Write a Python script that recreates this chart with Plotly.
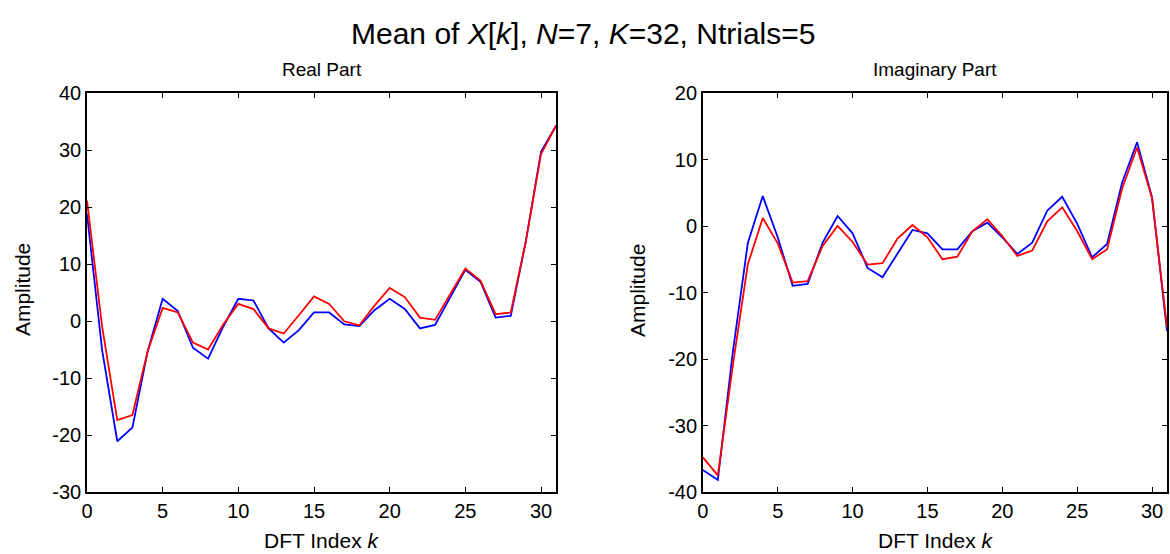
import plotly.graph_objects as go

k = list(range(32))

real_blue = [18.8, -5.1, -21.1, -18.7, -5.4, 3.9, 1.75, -4.7, -6.6, -1.0,
             3.9, 3.6, -1.3, -3.8, -1.6, 1.5, 1.5, -0.6, -0.9, 1.9,
             3.9, 2.1, -1.3, -0.7, 4.15, 9.0, 6.9, 0.6, 0.9, 14.0,
             29.7, 34.3]
real_red = [21.1, -1.0, -17.4, -16.5, -5.4, 2.3, 1.5, -3.8, -5.0, -0.6,
            3.0, 2.1, -1.3, -2.2, 1.0, 4.3, 3.0, -0.05, -0.75, 2.7,
            5.8, 4.2, 0.6, 0.2, 4.7, 9.2, 7.1, 1.2, 1.5, 14.0,
            29.3, 34.3]

imag_blue = [-36.7, -38.2, -19.0, -2.6, 4.5, -1.7, -9.0, -8.7, -2.5, 1.5,
             -1.1, -6.3, -7.7, -4.2, -0.6, -1.1, -3.5, -3.5, -0.8, 0.5,
             -1.7, -4.2, -2.5, 2.3, 4.4, 0.35, -4.7, -2.7, 6.5, 12.6,
             4.3, -15.8]
imag_red = [-34.8, -37.5, -21.0, -5.8, 1.2, -2.6, -8.5, -8.3, -3.0, 0.0,
            -2.4, -5.8, -5.6, -1.9, 0.15, -1.7, -5.0, -4.6, -0.8, 1.0,
            -1.5, -4.5, -3.7, 0.7, 2.8, -0.75, -5.0, -3.5, 5.6, 11.8,
            4.2, -15.2]

x_ticks = [0, 5, 10, 15, 20, 25, 30]
real_yticks = [-30, -20, -10, 0, 10, 20, 30, 40]
imag_yticks = [-40, -30, -20, -10, 0, 10, 20]

FONT = "Liberation Sans, Arial, sans-serif"
BLUE = "#0000ff"
RED = "#ff0000"

fig = go.Figure()
fig.add_trace(go.Scatter(x=k, y=real_blue, mode="lines", line=dict(color=BLUE, width=1.8),
                         xaxis="x", yaxis="y", showlegend=False))
fig.add_trace(go.Scatter(x=k, y=real_red, mode="lines", line=dict(color=RED, width=1.8),
                         xaxis="x", yaxis="y", showlegend=False))
fig.add_trace(go.Scatter(x=k, y=imag_blue, mode="lines", line=dict(color=BLUE, width=1.8),
                         xaxis="x2", yaxis="y2", showlegend=False))
fig.add_trace(go.Scatter(x=k, y=imag_red, mode="lines", line=dict(color=RED, width=1.8),
                         xaxis="x2", yaxis="y2", showlegend=False))

axis_common = dict(showline=True, linecolor="black", linewidth=1.6, mirror="ticks",
                   ticks="inside", ticklen=5, tickwidth=1.4, tickcolor="black",
                   showgrid=False, zeroline=False,
                   tickfont=dict(family=FONT, size=20, color="black"))

def labels(vals):
    return [str(v) for v in vals]

W = 1082.0
fig.update_layout(
    width=1170, height=554,
    margin=dict(l=87, r=1, t=93, b=62),
    paper_bgcolor="white", plot_bgcolor="white",
    xaxis=dict(domain=[0, 470 / W], range=[0, 31], tickvals=x_ticks,
               ticktext=labels(x_ticks), anchor="y", **axis_common),
    yaxis=dict(range=[-30, 40], tickvals=real_yticks, ticktext=labels(real_yticks),
               anchor="x", **axis_common),
    xaxis2=dict(domain=[617 / W, 1], range=[0, 31], tickvals=x_ticks,
                ticktext=labels(x_ticks), anchor="y2", **axis_common),
    yaxis2=dict(range=[-40, 20], tickvals=imag_yticks, ticktext=labels(imag_yticks),
                anchor="x2", **axis_common),
)

H = 399.0
def py(p):
    return (492 - p) / H
def px(p):
    return (p - 87) / W

ann = [
    dict(text="Mean of <i>X</i>[<i>k</i>], <i>N</i>=7, <i>K</i>=32, Ntrials=5",
         x=px(584), y=py(34), size=30),
    dict(text="Real Part", x=px(322), y=py(70), size=19),
    dict(text="Imaginary Part", x=px(937), y=py(70), size=19),
    dict(text="DFT Index <i>k</i>", x=px(322), y=py(540), size=21),
    dict(text="DFT Index <i>k</i>", x=px(937), y=py(540), size=21),
    dict(text="Amplitude", x=px(22), y=py(290), size=21, angle=-90),
    dict(text="Amplitude", x=px(638), y=py(290), size=21, angle=-90),
]
for a in ann:
    fig.add_annotation(text=a["text"], x=a["x"], y=a["y"], xref="paper", yref="paper",
                       xanchor="center", yanchor="middle", showarrow=False,
                       textangle=a.get("angle", 0),
                       font=dict(family=FONT, size=a["size"], color="black"))

fig.write_html("out.html", config={"displayModeBar": False},
               post_script="document.body.style.margin='0';")
